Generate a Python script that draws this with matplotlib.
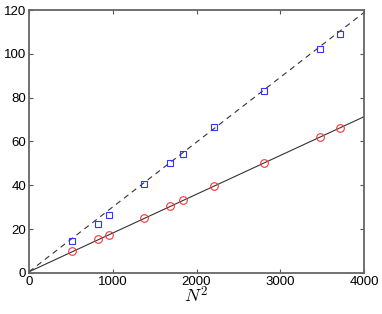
import numpy as np
import matplotlib
matplotlib.use('Agg')
import matplotlib.pyplot as plt

plt.rcParams['font.family'] = ['Liberation Sans', 'DejaVu Sans']
plt.rcParams['mathtext.fontset'] = 'cm'

# N^2 values shared by both series
n_sq = [513, 824, 955, 1373, 1684, 1839, 2209, 2806, 3475, 3714]
# square markers (upper series)
upper = [14.6, 22.4, 26.5, 40.6, 50.2, 54.3, 66.6, 83.0, 102.2, 109.0]
# circle markers (lower series)
lower = [10.0, 15.5, 17.3, 25.1, 30.6, 33.3, 39.7, 50.2, 62.1, 66.2]
# fitted lines: intercept, slope
upper_fit = (0.5, 0.0296)
lower_fit = (0.5, 0.0177)

fig = plt.figure(figsize=(3.82, 3.14), dpi=100)
ax = fig.add_axes([0.076, 0.131, 0.877, 0.837])

xx = np.array([0, 4000])
ax.plot(xx, upper_fit[0] + upper_fit[1] * xx, ls=(0, (5, 4)), color='#333333', lw=0.8)
ax.plot(xx, lower_fit[0] + lower_fit[1] * xx, ls='-', color='#333333', lw=0.8)

ax.plot(n_sq, upper, 's', ms=5, mfc='none', mec='#3333ff', mew=0.8)
ax.plot(n_sq, lower, 'o', ms=5.5, mfc='none', mec='#ff3333', mew=0.8)

ax.set_xlim(0, 4000)
ax.set_ylim(0, 120)
ax.set_xticks([0, 1000, 2000, 3000, 4000])
ax.set_yticks([0, 20, 40, 60, 80, 100, 120])
ax.tick_params(direction='in', length=3, width=0.8, color='#555555',
               top=True, right=True, labelsize=9.5, pad=2)
for s in ax.spines.values():
    s.set_color('#666666')
    s.set_linewidth(1.3)

ax.set_xlabel(r'$N^2$', fontsize=13, labelpad=-1)

fig.savefig('out.png', dpi=100)
